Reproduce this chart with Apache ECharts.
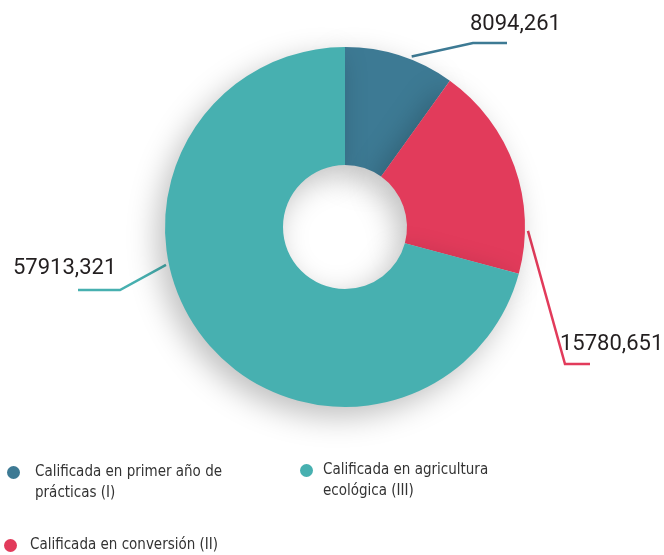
<!DOCTYPE html>
<html>
<head>
<meta charset="utf-8">
<script src="https://cdn.jsdelivr.net/npm/echarts@6/dist/echarts.min.js"></script>
<style>
html,body{margin:0;padding:0;background:#fff;}
#chart{width:664px;height:555px;}
</style>
</head>
<body>
<div id="chart"></div>
<script>
// ---- data ----
const categories = [
  'Calificada en primer año de prácticas (I)',
  'Calificada en conversión (II)',
  'Calificada en agricultura ecológica (III)'
];
const values = [8094.261, 15780.651, 57913.321];
const legendLabels = [
  '\nCalificada en primer año de\nprácticas (I)',
  'Calificada en conversión (II)',
  '\nCalificada en agricultura\necológica (III)'
];
const colors = ['#3d7a94', '#e23b5b', '#47b0b0'];

// ---- presentation ----
const LABEL_FONT = 'Roboto, "DejaVu Sans Condensed", sans-serif';
const LEGEND_FONT = '"DejaVu Sans Condensed", Roboto, sans-serif';
const CX = 345, CY = 227, R0 = 62, R1 = 180;
// label text anchor and leader line elbow/end (annotation placement)
const labelPlace = [
  { tx: 470, ty: 24, ex: 473, ey: 43, endX: 507, at: 0.6 },
  { tx: 560, ty: 344, ex: 565, ey: 364, endX: 590, at: 0.8 },
  { tx: 13, ty: 268, ex: 120, ey: 290, endX: 78, at: 0.6 }
];

function fmt(v) { return v.toFixed(3).replace('.', ','); }

const total = values.reduce((a, b) => a + b, 0);
function edgePoint(i, at) {
  let before = 0;
  for (let k = 0; k < i; k++) before += values[k];
  const frac = (before + values[i] * at) / total;
  const ang = frac * 2 * Math.PI; // clockwise from top
  return [CX + (R1 + 3) * Math.sin(ang), CY - (R1 + 3) * Math.cos(ang)];
}

const chart = echarts.init(document.getElementById('chart'), null, { renderer: 'canvas' });

function legendFor(idx, left, top, pad) {
  return {
    data: [categories[idx]],
    left: left, top: top,
    padding: 0,
    icon: 'circle',
    itemWidth: 13, itemHeight: 13,
    selectedMode: false,
    formatter: function (name) { return legendLabels[categories.indexOf(name)]; },
    textStyle: { fontFamily: LEGEND_FONT, fontSize: 15, color: '#333', lineHeight: 21, padding: pad }
  };
}

chart.setOption({
  backgroundColor: '#ffffff',
  color: colors,
  animation: false,
  legend: [
    legendFor(0, 7, 441, [0, 0, 0, 10]),
    legendFor(2, 300, 439, [0, 0, 0, 5]),
    legendFor(1, 4, 535, [0, 0, 0, 8])
  ],
  series: [{
    type: 'pie',
    center: [CX, CY],
    radius: [R0, R1],
    startAngle: 90,
    clockwise: true,
    avoidLabelOverlap: false,
    itemStyle: {
      shadowBlur: 30,
      shadowColor: 'rgba(0,0,0,0.25)',
      shadowOffsetX: -8,
      shadowOffsetY: 10
    },
    label: {
      show: true,
      position: 'outside',
      formatter: function (p) { return fmt(p.value); },
      fontFamily: LABEL_FONT,
      fontSize: 22,
      color: '#231f20'
    },
    labelLine: {
      show: true,
      length: 20,
      length2: 30,
      lineStyle: { width: 2.5 }
    },
    labelLayout: function (p) {
      const c = labelPlace[p.dataIndex];
      const p0 = edgePoint(p.dataIndex, c.at);
      return {
        x: c.tx, y: c.ty,
        align: 'left', verticalAlign: 'middle',
        labelLinePoints: [p0, [c.ex, c.ey], [c.endX, c.ey]]
      };
    },
    data: categories.map((n, i) => ({ name: n, value: values[i] }))
  }]
});
</script>
</body>
</html>
